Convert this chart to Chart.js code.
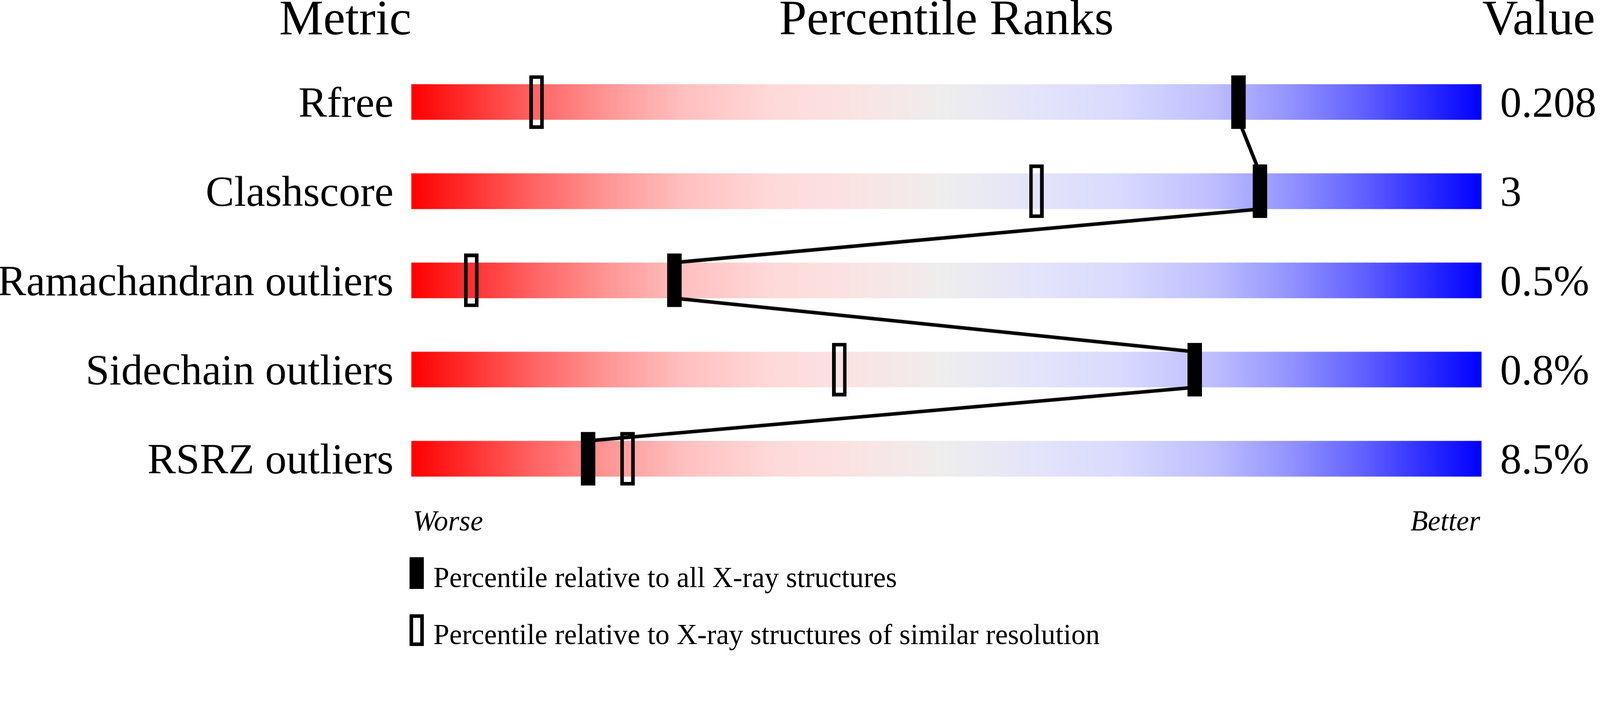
<!DOCTYPE html>
<html>
<head>
<meta charset="utf-8">
<title>Percentile Ranks</title>
<script src="https://cdn.jsdelivr.net/npm/chart.js@4.4.1/dist/chart.umd.min.js"></script>
<style>
  html, body { margin: 0; padding: 0; background: #fff; overflow: hidden; }
  #wrap { position: relative; }
</style>
</head>
<body>
<div id="wrap"><canvas id="percentileChart"></canvas></div>
<script>
// Percentile ranks slider chart

const metrics = ['Rfree', 'Clashscore', 'Ramachandran outliers', 'Sidechain outliers', 'RSRZ outliers'];
const valueLabels = ['0.208', '3', '0.5%', '0.8%', '8.5%'];
const fullRange = [100, 100, 100, 100, 100];           // the slider runs 0..100 percentile
const allStructures = [77.3, 79.3, 24.6, 73.2, 16.5];    // filled markers
const similarResolution = [11.7, 58.4, 5.6, 40.0, 20.2]; // open markers
const headers = ['Metric', 'Percentile Ranks', 'Value'];
const axisEnds = ['Worse', 'Better'];
const legendLabels = [
  'Percentile relative to all X-ray structures',
  'Percentile relative to X-ray structures of similar resolution'
];

const serif = '"Liberation Serif", "Times New Roman", serif';

// layout is measured on a 4485 x 1824 page; scale to the real viewport width
const S = window.innerWidth / 4485;
const px = (v) => v * S;
const wrap = document.getElementById('wrap');
wrap.style.width = px(4485) + 'px';
wrap.style.height = px(1824) + 'px';

// red -> pink -> grey -> lavender -> blue
const gradientStops = [
  [0, 'rgb(255,0,0)'],
  [0.11, 'rgb(255,96,96)'],
  [0.184, 'rgb(255,150,150)'],
  [0.251, 'rgb(255,190,190)'],
  [0.34, 'rgb(255,218,218)'],
  [0.42, 'rgb(250,228,228)'],
  [0.5, 'rgb(238,238,238)'],
  [0.58, 'rgb(228,228,250)'],
  [0.66, 'rgb(218,218,255)'],
  [0.749, 'rgb(190,190,255)'],
  [0.816, 'rgb(150,150,255)'],
  [0.89, 'rgb(96,96,255)'],
  [1, 'rgb(0,0,255)']
];

function markerCanvas(filled) {
  const w = Math.round(px(40));
  const h = Math.round(px(150));
  const t = px(10);
  const c = document.createElement('canvas');
  c.width = w;
  c.height = h;
  const g = c.getContext('2d');
  if (filled) {
    g.fillStyle = '#000';
    g.fillRect(0, 0, w, h);
  } else {
    g.strokeStyle = '#000';
    g.lineWidth = t;
    g.strokeRect(t / 2, t / 2, w - t, h - t);
  }
  return c;
}

const sliderDecor = {
  id: 'sliderDecor',
  afterDatasetDraw(chart, args) {
    if (args.index !== 0) return;
    // connect the filled markers, bar bottom -> next bar top
    const { ctx, scales: { x, y } } = chart;
    const half = args.meta.data[0].height / 2;
    ctx.save();
    ctx.strokeStyle = '#000';
    ctx.lineWidth = px(10);
    ctx.beginPath();
    for (let i = 0; i < allStructures.length - 1; i++) {
      ctx.moveTo(x.getPixelForValue(allStructures[i]), y.getPixelForValue(i) + half);
      ctx.lineTo(x.getPixelForValue(allStructures[i + 1]), y.getPixelForValue(i + 1) - half);
    }
    ctx.stroke();
    ctx.restore();
  },
  afterDraw(chart) {
    const { ctx, chartArea: { left, right, top, bottom } } = chart;
    ctx.save();
    ctx.fillStyle = '#000';
    ctx.textBaseline = 'alphabetic';

    // column headers
    ctx.font = `${px(139)}px ${serif}`;
    ctx.textAlign = 'right';
    ctx.fillText(headers[0], left, top - px(65));
    ctx.textAlign = 'center';
    ctx.fillText(headers[1], (left + right) / 2, top - px(65));
    ctx.textAlign = 'left';
    ctx.fillText(headers[2], right + px(2), top - px(65));

    // worse / better
    ctx.font = `italic ${px(80)}px ${serif}`;
    ctx.textAlign = 'left';
    ctx.fillText(axisEnds[0], left + px(4), bottom + px(76));
    ctx.textAlign = 'right';
    ctx.fillText(axisEnds[1], right - px(4), bottom + px(76));

    // legend
    ctx.fillRect(left - px(5), bottom + px(151), px(40), px(89));
    ctx.lineWidth = px(10);
    ctx.strokeStyle = '#000';
    ctx.strokeRect(left, bottom + px(316), px(30), px(79));
    ctx.font = `${px(80)}px ${serif}`;
    ctx.textAlign = 'left';
    ctx.fillText(legendLabels[0], left + px(62), bottom + px(235));
    ctx.fillText(legendLabels[1], left + px(62), bottom + px(395));
    ctx.restore();
  }
};

const tickFont = { family: serif, size: px(120) };

new Chart(document.getElementById('percentileChart'), {
  type: 'bar',
  data: {
    labels: metrics,
    datasets: [
      {
        label: 'Percentile range',
        data: fullRange,
        order: 3,
        barPercentage: 0.4,
        categoryPercentage: 1,
        borderWidth: 0,
        backgroundColor: (context) => {
          const chart = context.chart;
          const xs = chart.scales.x;
          if (!chart.chartArea || !xs) return 'transparent';
          const grad = chart.ctx.createLinearGradient(xs.getPixelForValue(0), 0, xs.getPixelForValue(100), 0);
          gradientStops.forEach(([stop, colour]) => grad.addColorStop(stop, colour));
          return grad;
        }
      },
      {
        type: 'line',
        label: 'Percentile relative to X-ray structures of similar resolution',
        data: similarResolution,
        indexAxis: 'y',
        order: 2,
        showLine: false,
        clip: false,
        pointStyle: markerCanvas(false),
        pointRadius: 3
      },
      {
        type: 'line',
        label: 'Percentile relative to all X-ray structures',
        data: allStructures,
        indexAxis: 'y',
        order: 1,
        showLine: false,
        clip: false,
        pointStyle: markerCanvas(true),
        pointRadius: 3
      }
    ]
  },
  options: {
    indexAxis: 'y',
    responsive: true,
    maintainAspectRatio: false,
    animation: false,
    events: [],
    layout: {
      autoPadding: false,
      padding: { top: px(161), bottom: px(413), left: 0, right: 0 }
    },
    plugins: {
      legend: { display: false },
      tooltip: { enabled: false }
    },
    scales: {
      x: { type: 'linear', min: 0, max: 100, display: false },
      y: {
        type: 'category',
        position: 'left',
        offset: true,
        grid: { display: false, drawTicks: false },
        border: { display: false },
        ticks: { font: tickFont, color: '#000', padding: px(50), labelOffset: px(10), autoSkip: false },
        afterFit(scale) { scale.width = px(1153); }
      },
      y2: {
        type: 'category',
        labels: valueLabels,
        position: 'right',
        offset: true,
        grid: { display: false, drawTicks: false },
        border: { display: false },
        ticks: { font: tickFont, color: '#000', padding: px(52), labelOffset: px(10), autoSkip: false },
        afterFit(scale) { scale.width = px(332); }
      }
    }
  },
  plugins: [sliderDecor]
});
</script>
</body>
</html>
